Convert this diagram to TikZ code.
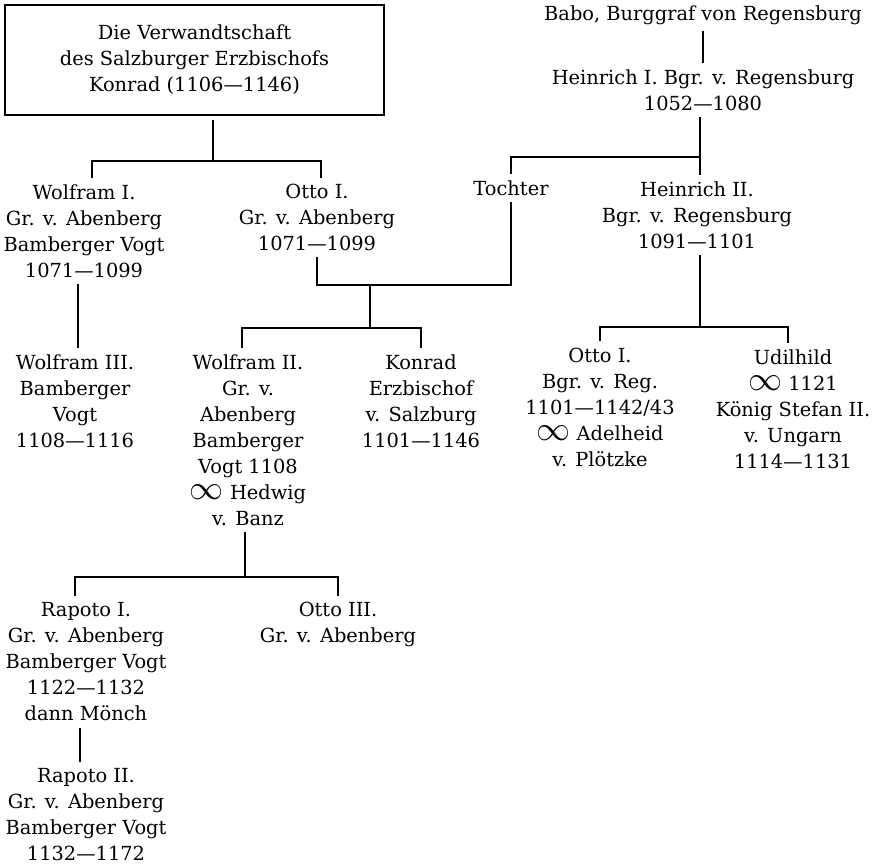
\documentclass[tikz,border=0pt]{standalone}
\usepackage{fontspec}
\usepackage{graphicx}
\setmainfont{DejaVu Serif}
\newcommand{\marr}{\scalebox{1.7}{$\infty$}}
\begin{document}
\begin{tikzpicture}[x=0.5pt, y=-0.5pt,
  person/.style={align=center, inner sep=3pt, font=\fontsize{9.7}{13}\selectfont},
  link/.style={line width=1.2pt}]
\useasboundingbox (0,0) rectangle (883,867);
% title box
\node[person, draw, line width=1.4pt, minimum width=189.5pt, minimum height=55pt] (title) at (194.5,60) {Die Verwandtschaft\\des Salzburger Erzbischofs\\Konrad (1106—1146)};
% Regensburg line
\node[person] (babo) at (703,15) {Babo, Burggraf von Regensburg};
\node[person] (heinI) at (703,90) {Heinrich I. Bgr. v. Regensburg\\1052—1080};
\node[person] (tochter) at (511,188) {Tochter};
\node[person] (heinII) at (697,215) {Heinrich II.\\Bgr. v. Regensburg\\1091—1101};
\node[person] (ottoIreg) at (600,407) {Otto I.\\Bgr. v. Reg.\\1101—1142/43\\\marr\ Adelheid\\v. Plötzke};
\node[person] (udilhild) at (793,409) {Udilhild\\\marr\ 1121\\König Stefan II.\\v. Ungarn\\1114—1131};
% Abenberg line
\node[person] (wolfI) at (84,231) {Wolfram I.\\Gr. v. Abenberg\\Bamberger Vogt\\1071—1099};
\node[person] (ottoI) at (317,217.5) {Otto I.\\Gr. v. Abenberg\\1071—1099};
\node[person] (wolfIII) at (75,401) {Wolfram III.\\Bamberger\\Vogt\\1108—1116};
\node[person] (wolfII) at (248,440) {Wolfram II.\\Gr. v.\\Abenberg\\Bamberger\\Vogt 1108\\\marr\ Hedwig\\v. Banz};
\node[person] (konrad) at (421,401) {Konrad\\Erzbischof\\v. Salzburg\\1101—1146};
\node[person] (rapI) at (86,662) {Rapoto I.\\Gr. v. Abenberg\\Bamberger Vogt\\1122—1132\\dann Mönch};
\node[person] (ottoIII) at (338,624.5) {Otto III.\\Gr. v. Abenberg};
\node[person] (rapII) at (86,815) {Rapoto II.\\Gr. v. Abenberg\\Bamberger Vogt\\1132—1172};
% junctions
\coordinate (j1) at (213,161);
\coordinate (j2) at (700,157);
\coordinate (j3) at (370,285);
\coordinate (j4) at (700,327);
\coordinate (j5) at (370,328);
\coordinate (j7) at (245,577);
\coordinate (w1) at ([xshift=-3pt]wolfI.south);
\coordinate (r1) at ([xshift=-3pt]rapI.south);
% connectors
\draw[link, shorten <=2pt] (title.south -| j1) -- (j1);
\draw[link] ([xshift=4pt]wolfI.north) |- (j1) -| ([xshift=2pt]ottoI.north);
\draw[link] (babo) -- (heinI);
\draw[link] (heinI.south -| j2) -- (j2);
\draw[link] (tochter.north) |- (j2) -- (heinII.north -| j2);
\draw[link] (ottoI.south) |- (j3) -| (tochter.south);
\draw[link] (j3) -- (j5);
\draw[link] ([xshift=-3pt]wolfII.north) |- (j5) -| (konrad.north);
\draw[link] (heinII.south -| j4) -- (j4);
\draw[link] (ottoIreg.north) |- (j4) -| ([xshift=-2.5pt]udilhild.north);
\draw[link] (w1) -- (w1 |- wolfIII.north);
\draw[link] (wolfII.south -| j7) -- (j7);
\draw[link] ([xshift=-5.5pt]rapI.north) |- (j7) -| (ottoIII.north);
\draw[link] (r1) -- (r1 |- rapII.north);
\end{tikzpicture}
\end{document}
